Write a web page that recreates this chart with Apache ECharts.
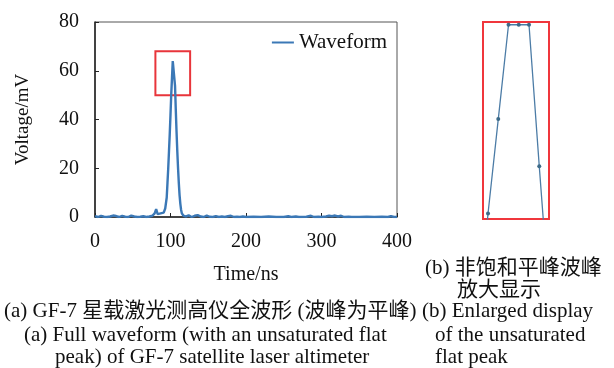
<!DOCTYPE html>
<html>
<head>
<meta charset="utf-8">
<script src="https://cdn.jsdelivr.net/npm/echarts@6/dist/echarts.min.js"></script>
<style>
html, body { margin: 0; padding: 0; background: #fff; }
#main { width: 614px; height: 368px; }
</style>
</head>
<body>
<div id="main"></div>
<script>
// waveform samples (ns, mV)
var timeNs = [0, 4, 8, 12, 16, 20, 24, 28, 32, 36, 40, 44, 48, 52, 56, 60, 64, 68, 72, 76,
    79, 81, 83, 85, 87, 89, 91, 93, 95, 96, 97, 98, 99, 100, 101, 102, 103, 104, 105, 106,
    107, 108, 109, 110, 111, 112, 113, 114, 115, 117, 120, 124, 128, 132, 136, 140, 144, 148,
    152, 156, 160, 164, 168, 172, 176, 180, 184, 188, 192, 196, 200, 210, 220, 230, 240, 250,
    256, 260, 266, 270, 280, 286, 290, 296, 300, 306, 310, 314, 318, 322, 326, 330, 336, 340,
    350, 360, 370, 380, 388, 392, 396, 400];
var voltage = [0.4, 0, 0.5, 0.1, 0, 0.2, 0.6, 0.4, 0, 0.5, 0.1, 0, 0.6, 0.2, 0, 0.1, 0.3, 0, 0.2, 0.5,
    1.5, 3.2, 1.2, 0.8, 1.5, 2.2, 1.8, 3.5, 8, 14, 20, 27, 34, 42, 50.4, 57.2, 64, 64, 64, 53.8,
    44, 35, 27, 20, 14, 9, 5.5, 3, 1.5, 0.6, 0.2, 0.7, 0, 0.5, 0.8, 0.2, 0, 0.6,
    0.1, 0, 0.4, 0, 0.2, 0, 0.3, 0.5, 0, 0.1, 0, 0.2, 0, 0.1, 0, 0.2, 0, 0,
    0.3, 0, 0.2, 0, 0.1, 0.5, 0, 0.1, 0, 0.2, 0.5, 0.3, 0.6, 0.2, 0.5, 0, 0.1, 0,
    0, 0.1, 0, 0.1, 0, 0.4, 0, 0];

var xTicks = [0, 100, 200, 300, 400];
var yTicks = [0, 20, 40, 60, 80];
// zoom window on the peak: [t0, t1, v0, v1]
var zoomBox = [80, 126, 50, 68];
// range of the enlarged panel
var insetX = [100.51, 106.95];
var insetY = [50, 64.2];

var seriesName = 'Waveform';
var captionsA = ['(a) GF-7 星载激光测高仪全波形 (波峰为平峰)',
    '(a) Full waveform (with an unsaturated flat',
    'peak) of GF-7 satellite laser altimeter'];
var captionsB = ['(b) 非饱和平峰波峰', '放大显示', '(b) Enlarged display', 'of the unsaturated', 'flat peak'];

var pts = [];
for (var i = 0; i < timeNs.length; i++) {
    pts.push([timeNs[i], voltage[i]]);
}

var font = '"Liberation Serif", "Noto Sans CJK SC", serif';

var myChart = echarts.init(document.getElementById('main'));

function cap(text, x, y, align) {
    return {
        type: 'text',
        x: x,
        y: y,
        style: {
            text: text,
            font: '21px ' + font,
            fill: '#111',
            textAlign: align || 'left',
            textVerticalAlign: 'middle'
        }
    };
}

var option = {
    animation: false,
    textStyle: { fontFamily: font },
    legend: {
        data: [seriesName],
        top: 27,
        right: 222,
        itemWidth: 22,
        itemHeight: 2,
        icon: 'rect',
        textStyle: { fontSize: 21, color: '#111', fontFamily: font },
        itemGap: 8
    },
    grid: [{
        left: 95, top: 22, width: 302, height: 195,
        show: true, borderColor: '#555', borderWidth: 1
    }, {
        left: 483, top: 22, width: 66, height: 197,
        show: true, borderColor: '#f0363c', borderWidth: 2
    }],
    xAxis: [{
        type: 'value',
        gridIndex: 0,
        min: xTicks[0], max: xTicks[xTicks.length - 1], interval: 100,
        name: 'Time/ns',
        nameLocation: 'middle',
        nameGap: 48,
        nameTextStyle: { fontSize: 20, color: '#111', fontFamily: font },
        axisLine: { lineStyle: { color: '#222', width: 1.5 } },
        axisTick: { inside: true, length: 4, lineStyle: { color: '#222' } },
        axisLabel: { fontSize: 20, color: '#111', margin: 15, fontFamily: font },
        splitLine: { show: false }
    }, {
        type: 'value',
        gridIndex: 1,
        min: insetX[0], max: insetX[1],
        show: false
    }],
    yAxis: [{
        type: 'value',
        gridIndex: 0,
        min: yTicks[0], max: yTicks[yTicks.length - 1], interval: 20,
        name: 'Voltage/mV',
        nameLocation: 'middle',
        nameGap: 62,
        nameTextStyle: { fontSize: 19, color: '#111', fontFamily: font },
        axisLine: { show: true, lineStyle: { color: '#222', width: 1.5 } },
        axisTick: { show: true, inside: true, length: 4, lineStyle: { color: '#222' } },
        axisLabel: { fontSize: 20, color: '#111', margin: 16, fontFamily: font },
        splitLine: { show: false }
    }, {
        type: 'value',
        gridIndex: 1,
        min: insetY[0], max: insetY[1],
        show: false
    }],
    series: [{
        name: seriesName,
        type: 'line',
        xAxisIndex: 0,
        yAxisIndex: 0,
        data: pts,
        showSymbol: false,
        lineStyle: { color: '#3b78b6', width: 2.4 },
        itemStyle: { color: '#3b78b6' },
        markArea: {
            silent: true,
            itemStyle: { color: 'rgba(0,0,0,0)', borderColor: '#e8353b', borderWidth: 2 },
            data: [[{ coord: [zoomBox[0], zoomBox[3]] }, { coord: [zoomBox[1], zoomBox[2]] }]]
        }
    }, {
        name: 'inset',
        type: 'line',
        xAxisIndex: 1,
        yAxisIndex: 1,
        data: pts,
        clip: true,
        symbol: 'circle',
        symbolSize: 4,
        showAllSymbol: true,
        lineStyle: { color: '#4c7ca6', width: 1.3 },
        itemStyle: { color: '#3c6a88' }
    }],
    graphic: [
        cap(captionsB[0], 425, 268),
        cap(captionsB[1], 457, 290),
        cap(captionsA[0], 4, 311),
        cap(captionsB[2], 422, 311),
        cap(captionsA[1], 24, 335),
        cap(captionsB[3], 435, 335),
        cap(captionsA[2], 55, 357),
        cap(captionsB[4], 435, 357)
    ]
};

myChart.setOption(option);
</script>
</body>
</html>
